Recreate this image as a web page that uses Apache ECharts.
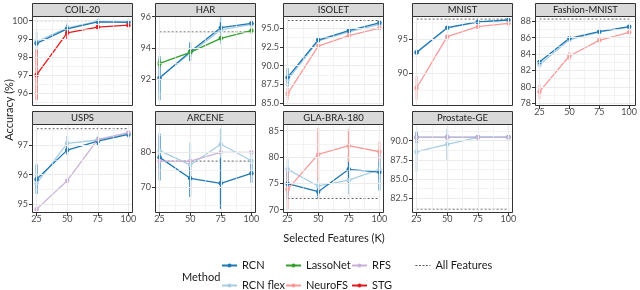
<!DOCTYPE html>
<html><head><meta charset="utf-8">
<script src="https://cdn.jsdelivr.net/npm/echarts@6/dist/echarts.min.js"></script>
<style>html,body{margin:0;padding:0;background:#fff}#c{width:640px;height:290px}</style>
</head><body><div id="c"></div><script>
// ---------- data ----------
const K = [25, 50, 75, 100];
const X_TICKS = [25, 50, 75, 100];

// COIL-20
const COIL20_RCN = [98.75, 99.55, 99.94, 99.91];
const COIL20_RCN_ERR = [0.15, 0.2, 0.08, 0.08];
const COIL20_FLEX = [98.85, 99.6, 99.96, 99.95];
const COIL20_FLEX_ERR = [0.55, 0.25, 0.06, 0.08];
const COIL20_STG = [97.0, 99.33, 99.65, 99.75];
const COIL20_STG_ERR = [1.4, 0.35, 0.12, 0.06];
const COIL20_ALL = 100.0;
const COIL20_YTICKS = [96, 97, 98, 99, 100];

// HAR
const HAR_RCN = [92.06, 93.75, 95.29, 95.57];
const HAR_RCN_ERR = [1.4, 0.6, 0.35, 0.15];
const HAR_FLEX = [92.1, 93.65, 95.15, 95.5];
const HAR_FLEX_ERR = [0.9, 0.5, 0.9, 0.15];
const HAR_LASSO = [93.0, 93.71, 94.61, 95.1];
const HAR_LASSO_ERR = [0.25, 0.3, 0.12, 0.2];
const HAR_ALL = 95.02;
const HAR_YTICKS = [92, 94, 96];

// ISOLET
const ISOLET_RCN = [88.45, 93.41, 94.65, 95.7];
const ISOLET_RCN_ERR = [1.2, 0.2, 0.25, 0.3];
const ISOLET_FLEX = [88.1, 93.3, 94.5, 95.5];
const ISOLET_FLEX_ERR = [0.8, 0.2, 0.2, 0.25];
const ISOLET_NEURO = [86.24, 92.6, 94.0, 95.0];
const ISOLET_NEURO_ERR = [0.8, 0.2, 0.12, 0.12];
const ISOLET_ALL = 96.0;
const ISOLET_YTICKS = [85, 87.5, 90, 92.5, 95];

// MNIST
const MNIST_RCN = [93.06, 96.65, 97.48, 97.77];
const MNIST_RCN_ERR = [0.3, 0.1, 0.1, 0.08];
const MNIST_FLEX = [92.95, 96.6, 97.45, 97.75];
const MNIST_FLEX_ERR = [0.3, 0.1, 0.1, 0.08];
const MNIST_NEURO = [87.86, 95.34, 96.8, 97.28];
const MNIST_NEURO_ERR = [1.7, 0.3, 0.15, 0.1];
const MNIST_ALL = 97.9;
const MNIST_YTICKS = [90, 95];

// Fashion-MNIST
const FMNIST_RCN = [83.04, 85.93, 86.74, 87.35];
const FMNIST_RCN_ERR = [0.2, 0.15, 0.1, 0.1];
const FMNIST_FLEX = [82.7, 85.75, 86.7, 87.3];
const FMNIST_FLEX_ERR = [0.3, 0.3, 0.1, 0.1];
const FMNIST_NEURO = [79.42, 83.77, 85.68, 86.66];
const FMNIST_NEURO_ERR = [0.9, 0.5, 0.15, 0.15];
const FMNIST_ALL = 88.28;
const FMNIST_YTICKS = [78, 80, 82, 84, 86, 88];

// USPS
const USPS_RCN = [95.85, 96.83, 97.13, 97.36];
const USPS_RCN_ERR = [0.5, 0.15, 0.15, 0.1];
const USPS_FLEX = [95.71, 97.06, 97.17, 97.39];
const USPS_FLEX_ERR = [0.25, 0.25, 0.08, 0.08];
const USPS_RFS = [94.84, 95.8, 97.19, 97.42];
const USPS_RFS_ERR = [0, 0, 0, 0];
const USPS_ALL = 97.55;
const USPS_YTICKS = [95, 96, 97];

// ARCENE
const ARCENE_RCN = [78.57, 72.57, 71.14, 74.0];
const ARCENE_RCN_ERR = [6.6, 5.3, 7.3, 2.7];
const ARCENE_FLEX = [80.48, 76.4, 82.3, 77.6];
const ARCENE_FLEX_ERR = [5.0, 6.4, 4.5, 2.2];
const ARCENE_RFS = [77.5, 77.5, 80.0, 80.0];
const ARCENE_RFS_ERR = [0, 0, 0, 0];
const ARCENE_ALL = 77.5;
const ARCENE_YTICKS = [70, 80];

// GLA-BRA-180
const GLA_RCN = [74.94, 73.42, 77.66, 77.15];
const GLA_RCN_ERR = [2.85, 1.3, 2.7, 3.5];
const GLA_FLEX = [77.66, 74.5, 75.6, 77.66];
const GLA_FLEX_ERR = [2.0, 1.5, 2.7, 2.0];
const GLA_NEURO = [73.86, 80.5, 82.15, 81.0];
const GLA_NEURO_ERR = [3.8, 5.0, 3.1, 1.9];
const GLA_ALL = 72.15;
const GLA_YTICKS = [70, 75, 80, 85];

// Prostate-GE
const PROSTATE_RCN = [90.43, 90.43, 90.43, 90.43];
const PROSTATE_RCN_ERR = [0.7, 0, 0, 0];
const PROSTATE_FLEX = [88.57, 89.52, 90.43, 90.43];
const PROSTATE_FLEX_ERR = [2.6, 2.0, 0, 0];
const PROSTATE_RFS = [90.43, 90.43, 90.43, 90.43];
const PROSTATE_RFS_ERR = [0, 0, 0, 0];
const PROSTATE_ALL = 81.1;
const PROSTATE_YTICKS = [82.5, 85, 87.5, 90];

const COLORS = {'RCN':'#1f78b4','RCN flex':'#a6cee3','LassoNet':'#33a02c','NeuroFS':'#fb9a99','RFS':'#cab2d6','STG':'#e31a1c'};

const PANELS = [
 {title:'COIL-20', yTicks:COIL20_YTICKS, yRange:[95.28,100.26], dec:0, all:COIL20_ALL,
  methods:[['RCN flex',COIL20_FLEX,COIL20_FLEX_ERR],['RCN',COIL20_RCN,COIL20_RCN_ERR],['STG',COIL20_STG,COIL20_STG_ERR]]},
 {title:'HAR', yTicks:HAR_YTICKS, yRange:[90.27,96.04], dec:0, all:HAR_ALL,
  methods:[['RCN flex',HAR_FLEX,HAR_FLEX_ERR],['RCN',HAR_RCN,HAR_RCN_ERR],['LassoNet',HAR_LASSO,HAR_LASSO_ERR]]},
 {title:'ISOLET', yTicks:ISOLET_YTICKS, yRange:[84.64,96.6], dec:1, all:ISOLET_ALL,
  methods:[['RCN flex',ISOLET_FLEX,ISOLET_FLEX_ERR],['RCN',ISOLET_RCN,ISOLET_RCN_ERR],['NeuroFS',ISOLET_NEURO,ISOLET_NEURO_ERR]]},
 {title:'MNIST', yTicks:MNIST_YTICKS, yRange:[85.24,98.35], dec:0, all:MNIST_ALL,
  methods:[['RCN flex',MNIST_FLEX,MNIST_FLEX_ERR],['RCN',MNIST_RCN,MNIST_RCN_ERR],['NeuroFS',MNIST_NEURO,MNIST_NEURO_ERR]]},
 {title:'Fashion-MNIST', yTicks:FMNIST_YTICKS, yRange:[77.67,88.65], dec:0, all:FMNIST_ALL,
  methods:[['RCN flex',FMNIST_FLEX,FMNIST_FLEX_ERR],['RCN',FMNIST_RCN,FMNIST_RCN_ERR],['NeuroFS',FMNIST_NEURO,FMNIST_NEURO_ERR]]},
 {title:'USPS', yTicks:USPS_YTICKS, yRange:[94.71,97.71], dec:0, all:USPS_ALL,
  methods:[['RCN flex',USPS_FLEX,USPS_FLEX_ERR],['RCN',USPS_RCN,USPS_RCN_ERR],['RFS',USPS_RFS,USPS_RFS_ERR]]},
 {title:'ARCENE', yTicks:ARCENE_YTICKS, yRange:[62.66,88.1], dec:0, all:ARCENE_ALL,
  methods:[['RCN flex',ARCENE_FLEX,ARCENE_FLEX_ERR],['RCN',ARCENE_RCN,ARCENE_RCN_ERR],['RFS',ARCENE_RFS,ARCENE_RFS_ERR]]},
 {title:'GLA-BRA-180', yTicks:GLA_YTICKS, yRange:[69.37,86.27], dec:0, all:GLA_ALL,
  methods:[['RCN flex',GLA_FLEX,GLA_FLEX_ERR],['RCN',GLA_RCN,GLA_RCN_ERR],['NeuroFS',GLA_NEURO,GLA_NEURO_ERR]]},
 {title:'Prostate-GE', yTicks:PROSTATE_YTICKS, yRange:[80.59,92.17], dec:1, all:PROSTATE_ALL,
  methods:[['RCN flex',PROSTATE_FLEX,PROSTATE_FLEX_ERR],['RCN',PROSTATE_RCN,PROSTATE_RCN_ERR],['RFS',PROSTATE_RFS,PROSTATE_RFS_ERR]]}
];

// ---------- layout ----------
const COL_LEFT = [32, 155, 283, 412, 535];
const PW = 101;
const ROW_TOP = [16, 124];
const ROW_H = [90, 89];
const STRIP_H = 13;
const FONT = 'Lato';

function legendBox(left, names, extra) {
  return Object.assign({left, top: 259, height: 40, padding: 0, orient: 'vertical', itemGap: 7, itemWidth: 15, itemHeight: 5,
          selectedMode: false, data: names,
          textStyle: {fontSize: 11, lineHeight: 13, color: '#1a1a1a', fontFamily: FONT, padding: [0, 0, 0, 0]}}, extra || {});
}

const option = {
  animation: false,
  textStyle: {fontFamily: FONT},
  grid: [], xAxis: [], yAxis: [], series: [], graphic: [],
  legend: [
    legendBox(221, ['RCN', 'RCN flex']),
    legendBox(285, ['LassoNet', 'NeuroFS']),
    legendBox(351, ['RFS', 'STG']),
    legendBox(415, ['All Features'], {itemStyle: {opacity: 0}, lineStyle: {type: [2, 1.5], width: 0.8, color: '#333'}})
  ]
};

PANELS.forEach((p, i) => {
  const row = i < 5 ? 0 : 1, col = i < 5 ? i : i - 5;
  const left = COL_LEFT[col], top = ROW_TOP[row], h = ROW_H[row];
  const showX = !(row === 0 && col < 4);
  option.grid.push({left, top, width: PW, height: h, show: true, backgroundColor: '#fff', borderWidth: 0});
  option.xAxis.push({
    gridIndex: i, type: 'value', min: 21.25, max: 103.75,
    axisLine: {show: false}, splitLine: {show: false},
    axisTick: {show: showX, length: 3, lineStyle: {color: '#333', width: 1}, customValues: X_TICKS},
    axisLabel: {show: showX, customValues: X_TICKS, fontSize: 9, color: '#4d4d4d', margin: 2, fontFamily: FONT}
  });
  option.yAxis.push({
    gridIndex: i, type: 'value', min: p.yRange[0], max: p.yRange[1],
    axisLine: {show: false}, splitLine: {show: false},
    axisTick: {show: true, length: 3, lineStyle: {color: '#333', width: 1}, customValues: p.yTicks},
    axisLabel: {customValues: p.yTicks, fontSize: 9, color: '#4d4d4d', margin: 4, fontFamily: FONT,
                formatter: v => Number(v).toFixed(p.dec)}
  });
  // grid lines
  const step = p.yTicks[1] - p.yTicks[0];
  const yMinor = [];
  for (let v = p.yTicks[0] - step / 2; v <= p.yRange[1]; v += step) if (v >= p.yRange[0]) yMinor.push(v);
  const xMinor = [37.5, 62.5, 87.5];
  const ml = [];
  xMinor.forEach(v => ml.push({xAxis: v, lineStyle: {color: '#ebebeb', width: 0.6, type: 'solid'}}));
  yMinor.forEach(v => ml.push({yAxis: v, lineStyle: {color: '#ebebeb', width: 0.6, type: 'solid'}}));
  X_TICKS.forEach(v => ml.push({xAxis: v, lineStyle: {color: '#ebebeb', width: 1.1, type: 'solid'}}));
  p.yTicks.forEach(v => ml.push({yAxis: v, lineStyle: {color: '#ebebeb', width: 1.1, type: 'solid'}}));
  option.series.push({
    type: 'line', xAxisIndex: i, yAxisIndex: i, data: [], silent: true, z: 1,
    markLine: {silent: true, symbol: 'none', animation: false, label: {show: false}, data: ml}
  });
  // all features reference
  option.series.push({
    name: 'All Features', type: 'line', xAxisIndex: i, yAxisIndex: i,
    data: [[K[0], p.all], [K[K.length - 1], p.all]], symbol: 'none', silent: true,
    lineStyle: {color: '#333', width: 0.8, type: [2, 2]}, itemStyle: {color: '#333'}, z: 2
  });
  // methods
  p.methods.forEach(([name, m, e]) => {
    const color = COLORS[name];
    option.series.push({
      name: name + ' (sd)', type: 'custom', xAxisIndex: i, yAxisIndex: i, silent: true, z: 3,
      data: K.map((k, j) => [k, m[j] - e[j], m[j] + e[j]]).filter(d => d[2] > d[1]),
      encode: {x: 0, y: [1, 2]},
      renderItem: (params, api) => {
        const a = api.coord([api.value(0), api.value(1)]);
        const b = api.coord([api.value(0), api.value(2)]);
        return {type: 'line', shape: {x1: a[0], y1: a[1], x2: b[0], y2: b[1]},
                style: {stroke: color, lineWidth: 1.9}};
      }
    });
    option.series.push({
      name, type: 'line', xAxisIndex: i, yAxisIndex: i, silent: true, z: 3,
      data: K.map((k, j) => [k, m[j]]),
      symbol: 'circle', symbolSize: 4.5, showSymbol: true,
      color, itemStyle: {color}, lineStyle: {color, width: 1.3}
    });
  });
  // strip & border
  const sTop = top - STRIP_H;
  option.graphic.push({type: 'rect', z: 100, shape: {x: left + 0.5, y: sTop + 0.5, width: PW - 1, height: STRIP_H},
                       style: {fill: '#d9d9d9', stroke: '#333', lineWidth: 1}});
  option.graphic.push({type: 'text', z: 101, x: left + PW / 2, y: sTop + STRIP_H / 2 + 0.5,
                       style: {text: p.title, align: 'center', verticalAlign: 'middle', textAlign: 'center', textVerticalAlign: 'middle',
                               fontSize: 9.5, fontFamily: FONT, fill: '#1a1a1a'}});
  option.graphic.push({type: 'rect', z: 100, shape: {x: left + 0.5, y: top + 0.5, width: PW - 1, height: h - 1},
                       style: {fill: 'none', stroke: '#333', lineWidth: 1}});
});

// axis titles & legend title
option.graphic.push({type: 'text', z: 101, x: 9, y: 110, rotation: Math.PI / 2,
  style: {text: 'Accuracy (%)', align: 'center', verticalAlign: 'middle', textAlign: 'center', textVerticalAlign: 'middle',
          fontSize: 11, fontFamily: FONT, fill: '#1a1a1a'}});
option.graphic.push({type: 'text', z: 101, x: 334, y: 238,
  style: {text: 'Selected Features (K)', align: 'center', verticalAlign: 'middle', textAlign: 'center', textVerticalAlign: 'middle',
          fontSize: 11, fontFamily: FONT, fill: '#1a1a1a'}});
option.graphic.push({type: 'text', z: 101, x: 182, y: 277,
  style: {text: 'Method', align: 'left', verticalAlign: 'middle', textAlign: 'left', textVerticalAlign: 'middle',
          fontSize: 11, fontFamily: FONT, fill: '#1a1a1a'}});

const chart = echarts.init(document.getElementById('c'), null, {renderer: 'canvas'});
chart.setOption(option);
</script></body></html>
